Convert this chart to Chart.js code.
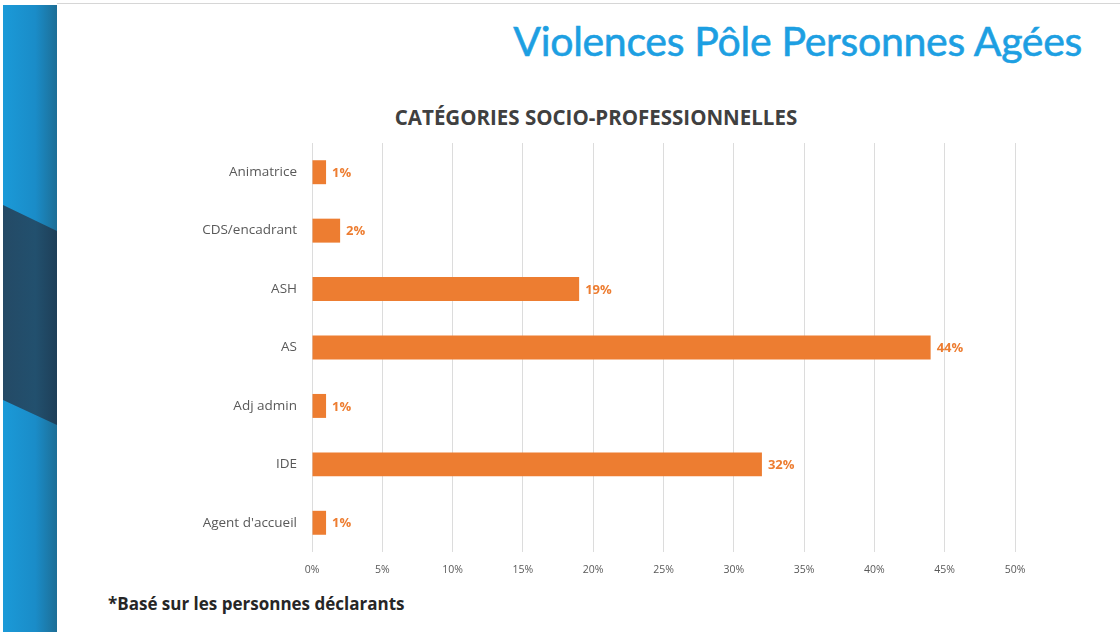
<!DOCTYPE html>
<html lang="fr">
<head>
  <meta charset="UTF-8">
  <title>Violences Pôle Personnes Agées</title>
  <script src="https://cdn.jsdelivr.net/npm/chart.js"></script>
  <style>
    html, body { margin: 0; padding: 0; background: #fff; }
    body { width: 1120px; height: 641px; position: relative; overflow: hidden; font-family: Lato, "Open Sans", sans-serif; }
    .bande { position: absolute; left: 3px; top: 5px; width: 54px; height: 627px;
             background: linear-gradient(to right, #1b9ad8 0%, #1a8cc8 60%, #1d6e96 100%); }
    .bande-sombre { position: absolute; left: 3px; top: 5px; width: 54px; height: 627px;
             background: linear-gradient(to right, #244a66 0%, #22506e 60%, #1e3f58 100%);
             clip-path: polygon(0 200px, 100% 226px, 100% 420px, 0 395px); }
    .cadre { position: absolute; left: 57px; top: 3px; width: 1063px; height: 1px; background: #d6d6d6; }
    .titre { position: absolute; right: 38px; top: 16px; font-size: 41px; color: #1d9fe2;
             -webkit-text-stroke: 0.6px #1d9fe2; letter-spacing: -0.3px; }
    .sous-titre { position: absolute; left: 0; width: 1192px; top: 103px; text-align: center;
                  font-family: "Open Sans", sans-serif; font-weight: bold; font-size: 20.5px; color: #404040; }
    .note { position: absolute; left: 108px; top: 592px; font-family: "Open Sans", sans-serif;
            font-weight: bold; font-size: 17px; color: #262626; }
    canvas { position: absolute; left: 0; top: 0; }
  </style>
</head>
<body>
  <div class="bande"></div>
  <div class="bande-sombre"></div>
  <div class="cadre"></div>
  <div class="titre">Violences Pôle Personnes Agées</div>
  <div class="sous-titre">CATÉGORIES SOCIO-PROFESSIONNELLES</div>
  <div class="note">*Basé sur les personnes déclarants</div>
  <canvas id="csp" width="1120" height="641"></canvas>

  <script>
    // données du graphique
    const categories = ['Animatrice', 'CDS/encadrant', 'ASH', 'AS', 'Adj admin', 'IDE', "Agent d'accueil"];
    const pourcentages = [1, 2, 19, 44, 1, 32, 1];
    const graduations = [0, 5, 10, 15, 20, 25, 30, 35, 40, 45, 50];

    // étiquettes de valeur au bout des barres
    const etiquettes = {
      id: 'etiquettes',
      afterDatasetsDraw(chart) {
        const ctx = chart.ctx;
        const meta = chart.getDatasetMeta(0);
        ctx.save();
        ctx.font = 'bold 13px "Open Sans", sans-serif';
        ctx.fillStyle = '#ED7D31';
        ctx.textBaseline = 'middle';
        meta.data.forEach(function(bar, i) {
          ctx.fillText(pourcentages[i] + '%', bar.x + 6, bar.y + 1);
        });
        ctx.restore();
      }
    };

    const ctx = document.getElementById('csp').getContext('2d');
    new Chart(ctx, {
      type: 'bar',
      data: {
        labels: categories,
        datasets: [{
          data: pourcentages,
          backgroundColor: '#ED7D31',
          borderWidth: 0,
          barPercentage: 0.82,
          categoryPercentage: 0.5
        }]
      },
      options: {
        indexAxis: 'y',
        responsive: false,
        animation: false,
        layout: {
          padding: { left: 60, right: 105, top: 143, bottom: 59 }
        },
        plugins: {
          legend: { display: false },
          tooltip: { enabled: false }
        },
        scales: {
          x: {
            min: 0,
            max: 50,
            afterFit: function(scale) { scale.height = 30; },
            afterBuildTicks: function(scale) {
              scale.ticks = graduations.map(function(v) { return { value: v }; });
            },
            grid: { color: '#dcdcdc', drawTicks: false },
            border: { display: false },
            ticks: {
              callback: function(value) { return value + '%'; },
              color: '#595959',
              font: { family: '"Open Sans", sans-serif', size: 10.5 },
              padding: 12
            }
          },
          y: {
            afterFit: function(scale) { scale.width = 252; },
            grid: { display: false, drawTicks: false },
            border: { display: false },
            ticks: {
              color: '#595959',
              font: { family: '"Open Sans", sans-serif', size: 13.5 },
              padding: 15
            }
          }
        }
      },
      plugins: [etiquettes]
    });
  </script>
</body>
</html>
